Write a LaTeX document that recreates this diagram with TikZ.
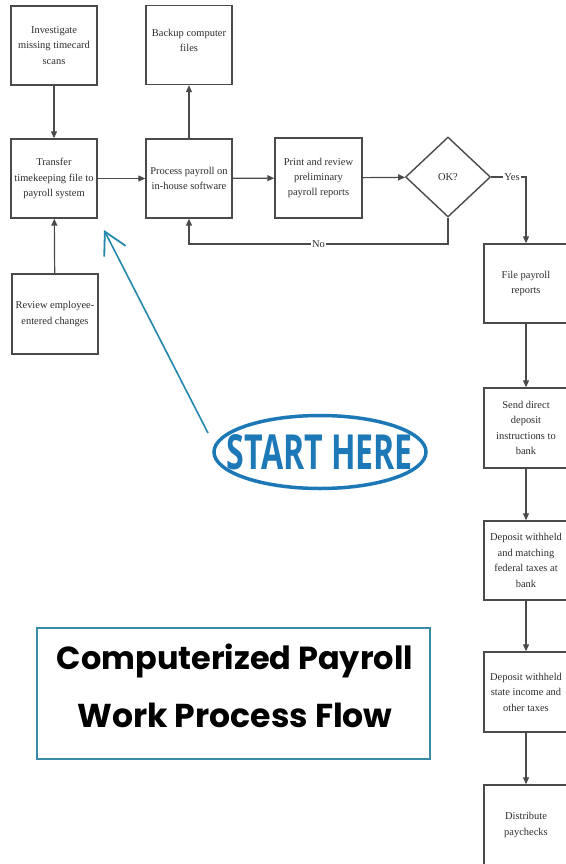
\documentclass[tikz,border=0pt]{standalone}
\usepackage{fontspec}
\setmainfont{Liberation Serif}
\newfontfamily\titlefont{Poppins}
\newfontfamily\startfont{Open Sans}
\usetikzlibrary{shapes.geometric,arrows.meta}
\definecolor{boxline}{HTML}{4A4A4A}
\definecolor{boxtext}{HTML}{2E2E2E}
\definecolor{startblue}{HTML}{1C78B6}
\definecolor{arrowteal}{HTML}{2488AE}
\definecolor{titleteal}{HTML}{3A8CA6}
\tikzset{
  procbox/.style={draw=boxline, line width=1.4bp, minimum width=86bp, minimum height=79bp,
    inner sep=1bp, align=center, text=boxtext, font=\fontsize{10.5}{15.5}\selectfont},
  decbox/.style={draw=boxline, line width=1.4bp, shape=diamond, minimum width=85bp,
    minimum height=80bp, inner sep=0pt, text=boxtext, font=\fontsize{10.5}{13}\selectfont},
  flow/.style={draw=boxline, line width=1.2bp, -{Triangle[length=7bp,width=6bp]}},
  lbl/.style={fill=white, inner sep=1bp, text=boxtext, font=\fontsize{10.5}{12}\selectfont},
}
\begin{document}
\begin{tikzpicture}[x=1bp,y=-1bp]
\useasboundingbox (0,0) rectangle (566,864);
\clip (0,0) rectangle (566,864);
\fill[white] (0,0) rectangle (566,864);

% left column / top row
\node[procbox] (inv) at (54,45.5) {Investigate\\missing timecard\\scans};
\node[procbox] (backup) at (189,45) {Backup computer\\files\\[-6bp]};
\node[procbox] (transfer) at (54,178.5) {Transfer\\timekeeping file to\\payroll system};
\node[procbox] (process) at (189,178.5) {Process payroll on\\in-house software};
\node[procbox, minimum width=87bp, minimum height=80bp] (print) at (318.5,178) {Print and review\\preliminary\\payroll reports};
\node[decbox] (ok) at (448,177) {OK?};
\node[procbox, minimum height=80bp] (review) at (55,314) {Review employee-\\entered changes};

% right column
\node[procbox, minimum width=84bp] (file) at (526,283.5) {File payroll\\reports};
\node[procbox, minimum width=84bp, minimum height=80bp] (send) at (526,428) {Send direct\\deposit\\instructions to\\bank};
\node[procbox, minimum width=84bp] (fed) at (526,560.5) {Deposit withheld\\and matching\\federal taxes at\\bank};
\node[procbox, minimum width=84bp, minimum height=80bp] (state) at (526,692) {Deposit withheld\\state income and\\other taxes};
\node[procbox, minimum width=84bp, minimum height=80bp] (dist) at (526,825) {Distribute\\paychecks};

% connectors
\draw[flow] (inv) -- (transfer);
\draw[flow] (review) -- (transfer);
\draw[flow] (transfer) -- (process);
\draw[flow] (process) -- (backup);
\draw[flow] (process) -- (print);
\draw[flow] (print) -- (ok);
\coordinate (yescorner) at (file.north |- ok.east);
\draw[flow] (ok.east) -- node[lbl, pos=0.6] (yes) {Yes} (yescorner) -- (file.north);
\coordinate (nocornerA) at (ok.south |- 0,244);
\coordinate (nocornerB) at (process.south |- 0,244);
\draw[flow] (ok.south) -- (nocornerA) -- node[lbl, pos=0.5] (no) {No} (nocornerB) -- (process.south);
\draw[flow] (file) -- (send);
\draw[flow] (send) -- (fed);
\draw[flow] (fed) -- (state);
\draw[flow] (state) -- (dist);

% START HERE callout
\node[draw=startblue, line width=3.5bp, ellipse, minimum width=212bp, minimum height=73bp, inner sep=0pt]
  (start) at (320,452) {};
\node[text=startblue, inner sep=0pt] (starttext) at (start.center)
  {\resizebox{186bp}{35bp}{\startfont\bfseries START HERE}};
\coordinate (tail) at (208,433);
\coordinate (tip) at (104,230);
\draw[arrowteal, line width=1.6bp, -{Straight Barb[length=22bp,width=24bp,line width=1.8bp]}] (tail) -- (tip);

% title
\node[draw=titleteal, line width=2bp, minimum width=393bp, minimum height=131bp, inner sep=0pt]
  (title) at (233.5,693.5) {};
\node[text=black, anchor=base] (t1) at (235,669) {\resizebox{356bp}{!}{\titlefont\fontseries{sb}\selectfont Computerized Payroll}};
\node[text=black, anchor=base] (t2) at (235,727) {\resizebox{315bp}{!}{\titlefont\fontseries{sb}\selectfont Work Process Flow}};
\end{tikzpicture}
\end{document}
